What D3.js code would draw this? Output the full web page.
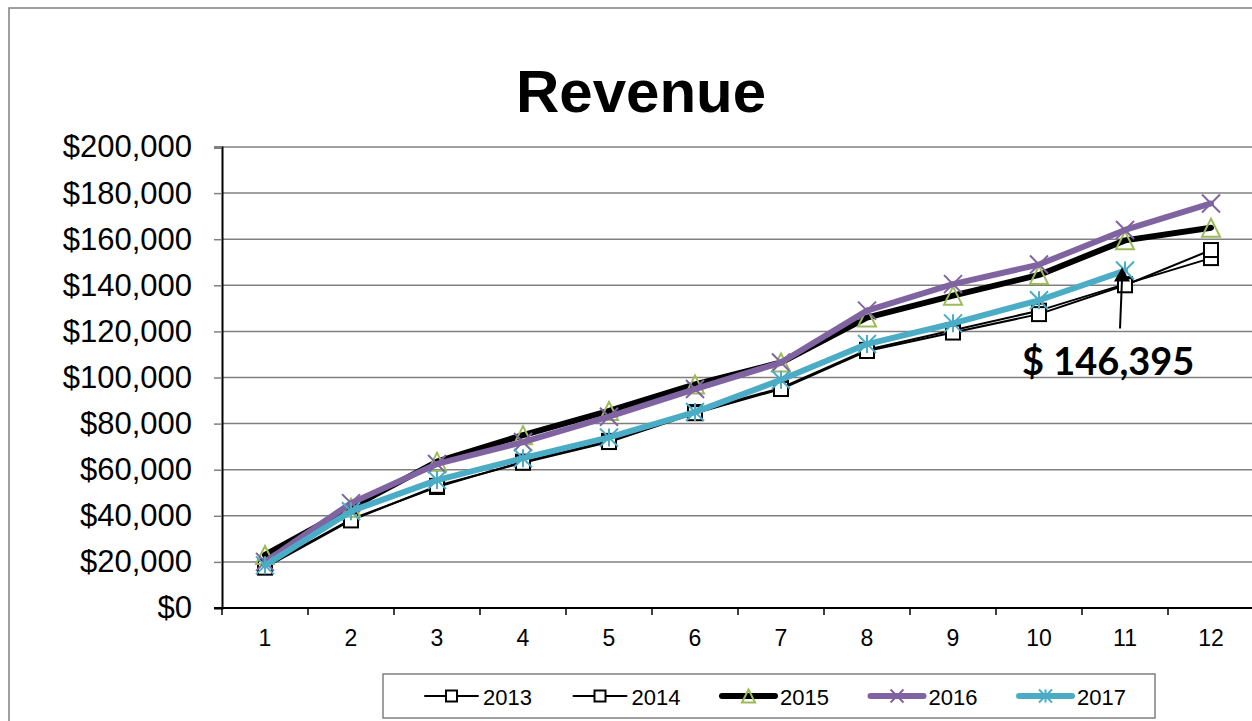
<!DOCTYPE html>
<html>
<head>
<meta charset="utf-8">
<script src="https://cdn.jsdelivr.net/npm/d3@7"></script>
<style>
  html, body { margin: 0; padding: 0; background: #fff; }
  svg { display: block; }
</style>
</head>
<body>
<script>
// data
const months = [1, 2, 3, 4, 5, 6, 7, 8, 9, 10, 11, 12];
const yTicks = [0, 20000, 40000, 60000, 80000, 100000, 120000, 140000, 160000, 180000, 200000];
const rev2013 = [18000, 38500, 52500, 63500, 72500, 85000, 95500, 112000, 120500, 129000, 140500, 151800];
const rev2014 = [17500, 38000, 53000, 63000, 72000, 84500, 95000, 111500, 119500, 127500, 140000, 155300];
const rev2015 = [23000, 43500, 63500, 75000, 85500, 97000, 106500, 126000, 135500, 144500, 159500, 165000];
const rev2016 = [20000, 45500, 62500, 72000, 83000, 95000, 106500, 129000, 140500, 149000, 164000, 175500];
const rev2017 = [18500, 42000, 55500, 65000, 74000, 85000, 99000, 114500, 123500, 133500, 146395];
const callout = { month: 11, value: 146395, label: "$ 146,395" };

const series = [
  { name: "2013", values: rev2013, stroke: "#000", width: 2, marker: "square", mcolor: "#000" },
  { name: "2014", values: rev2014, stroke: "#000", width: 2, marker: "square", mcolor: "#000" },
  { name: "2015", values: rev2015, stroke: "#000", width: 6, marker: "triangle", mcolor: "#9BBB59" },
  { name: "2016", values: rev2016, stroke: "#8064A2", width: 6, marker: "cross", mcolor: "#8064A2" },
  { name: "2017", values: rev2017, stroke: "#4BACC6", width: 6, marker: "star", mcolor: "#4BACC6" }
];

const W = 1252, H = 721;
const plot = { left: 222, right: 1254, top: 147, bottom: 608 };

const svg = d3.select("body").append("svg")
  .attr("width", W).attr("height", H)
  .style("font-family", "Arial, 'Liberation Sans', sans-serif");

// chart frame
svg.append("path")
  .attr("d", `M9,${H} L9,8 L${W},8`)
  .attr("fill", "none").attr("stroke", "#808080").attr("stroke-width", 1.5);

const x = d3.scaleBand().domain(months).range([plot.left, plot.right]).padding(0);
const y = d3.scaleLinear().domain([0, 200000]).range([plot.bottom, plot.top]);
const cx = m => x(m) + x.bandwidth() / 2;

// title
svg.append("text")
  .attr("x", 641).attr("y", 112)
  .attr("text-anchor", "middle")
  .attr("font-size", 60).attr("font-weight", "bold")
  .text("Revenue");

// gridlines
svg.append("g").selectAll("line")
  .data(yTicks.filter(d => d > 0))
  .join("line")
    .attr("x1", plot.left).attr("x2", plot.right)
    .attr("y1", d => y(d)).attr("y2", d => y(d))
    .attr("stroke", "#808080").attr("stroke-width", 1.5);

// y axis
const yAxis = svg.append("g")
  .attr("transform", `translate(${plot.left},0)`)
  .call(d3.axisLeft(y).tickValues(yTicks).tickSize(8).tickPadding(22)
    .tickFormat(d => "$" + d3.format(",")(d)));
yAxis.select(".domain").attr("stroke", "#000").attr("stroke-width", 2);
yAxis.selectAll(".tick line").attr("stroke", "#808080").attr("stroke-width", 1.5);
yAxis.selectAll(".tick text")
  .attr("font-size", 31).attr("fill", "#000")
  .attr("font-family", "Arial, 'Liberation Sans', sans-serif");

// x axis
const xAxis = svg.append("g")
  .attr("transform", `translate(0,${plot.bottom})`)
  .call(d3.axisBottom(x).tickSize(0).tickPadding(22));
xAxis.select(".domain").remove();
xAxis.selectAll(".tick text")
  .attr("font-size", 23).attr("fill", "#000")
  .attr("font-family", "Arial, 'Liberation Sans', sans-serif");
xAxis.append("g").selectAll("line")
  .data(months)
  .join("line")
    .attr("x1", d => x(d)).attr("x2", d => x(d))
    .attr("y1", 0).attr("y2", 7)
    .attr("stroke", "#000").attr("stroke-width", 1.5);
xAxis.append("line")
  .attr("x1", plot.left - 8).attr("x2", plot.right)
  .attr("stroke", "#000").attr("stroke-width", 2);

// markers
function drawMarker(g, type, color, size) {
  const h = size / 2;
  if (type === "square") {
    g.append("rect")
      .attr("x", -h).attr("y", -h).attr("width", size).attr("height", size)
      .attr("fill", "#fff").attr("stroke", color).attr("stroke-width", 2);
  } else if (type === "triangle") {
    g.append("path")
      .attr("d", `M0,${-h} L${h},${h} L${-h},${h} Z`)
      .attr("fill", "none").attr("stroke", color).attr("stroke-width", 2);
  } else if (type === "cross") {
    g.append("path")
      .attr("d", `M${-h},${-h} L${h},${h} M${-h},${h} L${h},${-h}`)
      .attr("stroke", color).attr("stroke-width", 2);
  } else {
    g.append("path")
      .attr("d", `M${-h},${-h} L${h},${h} M${-h},${h} L${h},${-h} M0,${-h} L0,${h}`)
      .attr("stroke", color).attr("stroke-width", 2);
  }
}

const line = d3.line().x(d => cx(d.m)).y(d => y(d.v));

series.forEach(s => {
  const pts = s.values.map((v, i) => ({ m: months[i], v }));
  const g = svg.append("g");
  g.append("path")
    .datum(pts)
    .attr("d", line)
    .attr("fill", "none")
    .attr("stroke", s.stroke)
    .attr("stroke-width", s.width)
    .attr("stroke-linejoin", "round")
    .attr("stroke-linecap", "round");
  const msize = s.marker === "square" ? 14 : 18;
  g.selectAll("g.mk")
    .data(pts)
    .join("g")
      .attr("class", "mk")
      .attr("transform", d => `translate(${cx(d.m)},${y(d.v)})`)
      .each(function () { drawMarker(d3.select(this), s.marker, s.mcolor, msize); });
});

// callout arrow + label
const ax = cx(callout.month) - 3;
const tipY = y(callout.value) - 3;
svg.append("line")
  .attr("x1", ax - 2).attr("y1", tipY + 61)
  .attr("x2", ax).attr("y2", tipY + 12)
  .attr("stroke", "#000").attr("stroke-width", 2);
svg.append("path")
  .attr("d", `M${ax},${tipY} L${ax + 8},${tipY + 14} L${ax - 8},${tipY + 14} Z`)
  .attr("fill", "#000");
svg.append("text")
  .attr("x", 1022).attr("y", 375)
  .attr("font-family", "Lato, 'Open Sans', sans-serif")
  .attr("font-weight", "bold")
  .attr("font-size", 38)
  .text(callout.label);

// legend
const legend = svg.append("g");
legend.append("rect")
  .attr("x", 383).attr("y", 674).attr("width", 772).attr("height", 44)
  .attr("fill", "#fff").attr("stroke", "#808080").attr("stroke-width", 1.5);

const item = legend.selectAll("g.item")
  .data(series)
  .join("g")
    .attr("class", "item")
    .attr("transform", (d, i) => `translate(${425 + i * 148.5},696)`);
item.append("line")
  .attr("x1", 0).attr("x2", 53)
  .attr("stroke", d => d.stroke)
  .attr("stroke-width", d => d.width)
  .attr("stroke-linecap", "round");
item.each(function (d) {
  const mg = d3.select(this).append("g").attr("transform", "translate(26.5,0)");
  drawMarker(mg, d.marker, d.mcolor, d.marker === "square" ? 11 : 13);
});
item.append("text")
  .attr("x", 58).attr("y", 9)
  .attr("font-size", 22)
  .text(d => d.name);
</script>
</body>
</html>
